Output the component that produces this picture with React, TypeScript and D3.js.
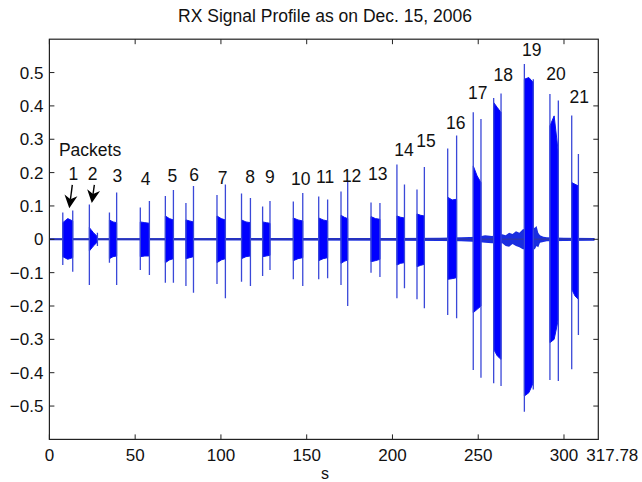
import React from 'react';
import * as d3 from 'd3';

// ---------- data ----------
const title = 'RX Signal Profile as on Dec. 15, 2006';
const xLabel = 's';
const xTicks = [0, 50, 100, 150, 200, 250, 300];
const xEndLabel = '317.78';
const yTicks = [-0.5, -0.4, -0.3, -0.2, -0.1, 0, 0.1, 0.2, 0.3, 0.4, 0.5];
const xDomain = [0, 320];
const yDomain = [-0.6, 0.6];
const signalEnd = 317.78;

// packets: start / end time (s)
const pktStart = [7.8, 23.3, 35.0, 53.0, 67.6, 79.6, 97.7, 112.0, 124.3, 142.2, 157.0, 170.0, 187.5, 202.6, 214.3, 232.2, 247.1, 259.0, 276.9, 291.8, 304.5];
const pktEnd = [13.6, 28.0, 39.2, 58.3, 72.3, 84.0, 102.6, 117.2, 128.6, 147.7, 162.2, 173.9, 192.7, 207.0, 218.6, 237.4, 251.6, 263.3, 282.1, 296.7, 308.4];
// leading spike (max / min)
const spikeAHi = [0.08, 0.104, 0.08, 0.095, 0.13, 0.109, 0.133, 0.137, 0.098, 0.113, 0.128, 0.143, 0.11, 0.224, 0.149, 0.272, 0.381, 0.424, 0.526, 0.436, 0.371];
const spikeALo = [-0.077, -0.137, -0.07, -0.092, -0.13, -0.14, -0.134, -0.127, -0.11, -0.12, -0.12, -0.137, -0.1, -0.177, -0.18, -0.227, -0.392, -0.432, -0.517, -0.422, -0.39];
// trailing spike (max / min)
const spikeBHi = [0.086, 0.02, 0.14, 0.115, 0.148, 0.16, 0.164, 0.124, 0.115, 0.139, 0.119, 0.172, 0.109, 0.164, 0.217, 0.311, 0.361, 0.437, 0.48, 0.416, 0.256];
const spikeBLo = [-0.097, -0.02, -0.137, -0.107, -0.13, -0.16, -0.177, -0.14, -0.092, -0.14, -0.117, -0.2, -0.113, -0.147, -0.207, -0.237, -0.415, -0.44, -0.45, -0.425, -0.287];
// packet body envelope at start / middle / end
const bodyHiA = [0.05, 0.035, 0.058, 0.052, 0.07, 0.058, 0.07, 0.058, 0.052, 0.064, 0.064, 0.072, 0.068, 0.07, 0.076, 0.126, 0.22, 0.41, 0.48, 0.34, 0.17];
const bodyHiM = [0.062, 0.02, 0.052, 0.05, 0.062, 0.055, 0.062, 0.052, 0.05, 0.058, 0.058, 0.066, 0.062, 0.066, 0.072, 0.118, 0.19, 0.395, 0.485, 0.37, 0.165];
const bodyHiB = [0.055, 0.008, 0.05, 0.048, 0.058, 0.052, 0.058, 0.05, 0.048, 0.055, 0.055, 0.062, 0.06, 0.064, 0.07, 0.12, 0.17, 0.38, 0.47, 0.26, 0.16];
const bodyLoA = [-0.052, -0.035, -0.058, -0.052, -0.07, -0.058, -0.07, -0.058, -0.052, -0.064, -0.064, -0.072, -0.067, -0.077, -0.082, -0.12, -0.22, -0.33, -0.47, -0.31, -0.15];
const bodyLoM = [-0.06, -0.02, -0.052, -0.05, -0.062, -0.055, -0.062, -0.052, -0.05, -0.058, -0.058, -0.066, -0.064, -0.072, -0.078, -0.118, -0.21, -0.35, -0.46, -0.3, -0.17];
const bodyLoB = [-0.055, -0.008, -0.05, -0.05, -0.058, -0.052, -0.058, -0.05, -0.048, -0.055, -0.055, -0.062, -0.06, -0.07, -0.075, -0.115, -0.2, -0.36, -0.43, -0.24, -0.18];

// baseline noise envelope
const noiseT = [0, 200, 228, 240, 250, 254, 258, 264, 266, 268, 270, 272, 274, 276, 283, 284, 285, 286, 288, 290, 300, 317.78];
const noiseHi = [0.003, 0.004, 0.005, 0.006, 0.008, 0.012, 0.01, 0.015, 0.012, 0.02, 0.016, 0.024, 0.02, 0.03, 0.035, 0.04, 0.02, 0.012, 0.008, 0.006, 0.005, 0.004];
const noiseLo = [-0.003, -0.004, -0.005, -0.006, -0.008, -0.01, -0.012, -0.012, -0.02, -0.022, -0.014, -0.02, -0.024, -0.03, -0.03, -0.02, -0.024, -0.01, -0.008, -0.006, -0.005, -0.004];

// packet number labels (label centre, data coords)
const pktLabels = ['1', '2', '3', '4', '5', '6', '7', '8', '9', '10', '11', '12', '13', '14', '15', '16', '17', '18', '19', '20', '21'];
const labelT = [13.9, 25.2, 39.6, 56.1, 71.7, 84.3, 101.0, 117.0, 128.6, 146.5, 160.7, 176.2, 191.4, 206.7, 219.6, 236.9, 249.7, 264.6, 281.2, 295.3, 308.9];
const labelV = [0.196, 0.196, 0.19, 0.183, 0.19, 0.195, 0.185, 0.187, 0.187, 0.183, 0.187, 0.19, 0.196, 0.268, 0.295, 0.35, 0.44, 0.495, 0.568, 0.498, 0.428];

const packetsText = 'Packets';
const packetsT = 23.7;
const packetsV = 0.268;

// arrows: tail -> tip (data coords)
const arrowTailT = [13.35, 26.2];
const arrowTailV = [0.163, 0.163];
const arrowTipT = [11.6, 24.7];
const arrowTipV = [0.093, 0.109];

// ---------- chart ----------
const W = 642;
const H = 482;
const FONT = '"Liberation Sans", Arial, Helvetica, sans-serif';

export default function App() {
  const x = d3.scaleLinear().domain(xDomain).range([49.4, 598.3]);
  const y = d3.scaleLinear().domain(yDomain).range([439.4, 39.2]);
  const [x0, x1] = x.range();
  const [yb, yt] = y.range();

  const noiseIdx = d3.range(noiseT.length);
  const noiseArea = d3
    .area<number>()
    .x((i) => x(noiseT[i]))
    .y0((i) => y(noiseLo[i]))
    .y1((i) => y(noiseHi[i]))(noiseIdx);

  const bodies = pktStart.map((s, i) => {
    const e = pktEnd[i];
    const m = (s + e) / 2;
    const p = d3.path();
    p.moveTo(x(s), y(bodyHiA[i]));
    p.lineTo(x(m), y(bodyHiM[i]));
    p.lineTo(x(e), y(bodyHiB[i]));
    p.lineTo(x(e), y(bodyLoB[i]));
    p.lineTo(x(m), y(bodyLoM[i]));
    p.lineTo(x(s), y(bodyLoA[i]));
    p.closePath();
    return p.toString();
  });

  const arrows = arrowTailT.map((tt, i) => {
    const ax = x(tt), ay = y(arrowTailV[i]);
    const bx = x(arrowTipT[i]), by = y(arrowTipV[i]);
    const dx = bx - ax, dy = by - ay;
    const len = Math.hypot(dx, dy);
    const ux = dx / len, uy = dy / len;
    const px = -uy, py = ux;
    const hl = 13, hw = 6.5, notch = 9;
    const head = [
      [bx, by],
      [bx - ux * hl + px * hw, by - uy * hl + py * hw],
      [bx - ux * notch, by - uy * notch],
      [bx - ux * hl - px * hw, by - uy * hl - py * hw],
    ];
    return { ax, ay, sx: bx - ux * notch, sy: by - uy * notch, head: head.map((q) => q.join(',')).join(' ') };
  });

  const fmt = (v: number) => (v === 0 ? '0' : (v < 0 ? '\u2212' : '') + d3.format('.1f')(Math.abs(v)));

  return (
    <svg width={W} height={H} style={{ position: 'absolute', left: 0, top: 0, background: '#fff' }} fontFamily={FONT}>
      <rect x={0} y={0} width={W} height={H} fill="#fff" />
      <text x={325} y={22} textAnchor="middle" fontSize={17.5} fill="#111">{title}</text>

      <clipPath id="plotclip">
        <rect x={x0} y={yt} width={x1 - x0} height={yb - yt} />
      </clipPath>

      <g clipPath="url(#plotclip)">
        <path d={noiseArea || ''} fill="#1a2ee0" />
        <line x1={x(0)} x2={x(signalEnd)} y1={y(0)} y2={y(0)} stroke="#2a35b0" strokeWidth={1.6} />
        {bodies.map((d, i) => (
          <path key={'b' + i} d={d} fill="#0000ff" stroke="#0a14f0" strokeWidth={1} />
        ))}
        {pktStart.map((s, i) => (
          <g key={'s' + i}>
            <line x1={x(s)} x2={x(s)} y1={y(spikeAHi[i])} y2={y(spikeALo[i])} stroke="#3a48d8" strokeWidth={1.3} />
            <line x1={x(pktEnd[i])} x2={x(pktEnd[i])} y1={y(spikeBHi[i])} y2={y(spikeBLo[i])} stroke="#3a48d8" strokeWidth={1.3} />
          </g>
        ))}
      </g>

      {/* axes box */}
      <rect x={x0} y={yt} width={x1 - x0} height={yb - yt} fill="none" stroke="#222" strokeWidth={1.2} />
      {xTicks.map((t) => (
        <g key={'xt' + t}>
          <line x1={x(t)} x2={x(t)} y1={yb} y2={yb - 5} stroke="#222" />
          <line x1={x(t)} x2={x(t)} y1={yt} y2={yt + 5} stroke="#222" />
          <text x={x(t)} y={yb + 22} textAnchor="middle" fontSize={17} fill="#111">{t}</text>
        </g>
      ))}
      <text x={x1 - 12} y={yb + 22} textAnchor="start" fontSize={17} fill="#111">{xEndLabel}</text>
      {yTicks.map((v) => (
        <g key={'yt' + v}>
          <line x1={x0} x2={x0 + 5} y1={y(v)} y2={y(v)} stroke="#222" />
          <line x1={x1} x2={x1 - 5} y1={y(v)} y2={y(v)} stroke="#222" />
          <text x={x0 - 6} y={y(v)} dy="0.36em" textAnchor="end" fontSize={17} fill="#111">{fmt(v)}</text>
        </g>
      ))}
      <text x={325} y={479} textAnchor="middle" fontSize={16} fill="#111">{xLabel}</text>

      {/* annotations */}
      <text x={x(packetsT)} y={y(packetsV)} dy="0.36em" textAnchor="middle" fontSize={17.5} fill="#111">{packetsText}</text>
      {pktLabels.map((l, i) => (
        <text key={'l' + i} x={x(labelT[i])} y={y(labelV[i])} dy="0.36em" textAnchor="middle" fontSize={17.5} fill="#111">{l}</text>
      ))}
      {arrows.map((a, i) => (
        <g key={'a' + i}>
          <line x1={a.ax} y1={a.ay} x2={a.sx} y2={a.sy} stroke="#000" strokeWidth={1.4} />
          <polygon points={a.head} fill="#000" />
        </g>
      ))}
    </svg>
  );
}
